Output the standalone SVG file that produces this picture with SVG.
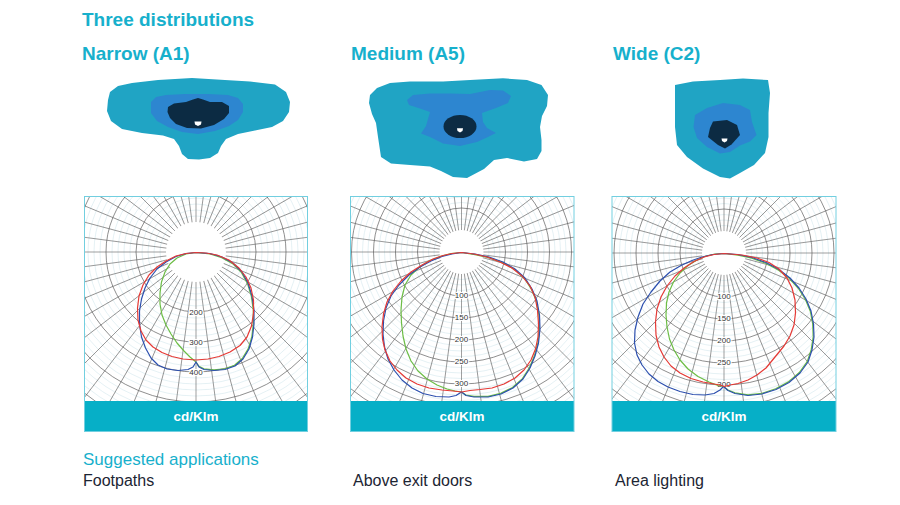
<svg xmlns="http://www.w3.org/2000/svg" xmlns:xlink="http://www.w3.org/1999/xlink" width="900" height="505" viewBox="0 0 900 505">
<style>
text{font-family:"Liberation Sans",Arial,sans-serif}
.h{font-weight:bold;font-size:19px;fill:#17b0cc}
.sub{font-size:17px;fill:#17b0cc}
.app{font-size:16px;fill:#1c2533}
.unit{font-weight:bold;font-size:13.5px;fill:#fff;text-anchor:middle}
.lbl{font-size:8px;fill:#333;text-anchor:middle;stroke:#fff;stroke-width:2.2;paint-order:stroke;stroke-linejoin:round}
.lr{fill:none;stroke:#cfe6eb;stroke-width:0.55}
.dr{fill:none;stroke:#5f5f5f;stroke-width:0.7}
.sp line{stroke:#5f5f5f;stroke-width:0.6}
.cv{fill:none;stroke-width:1.2;stroke-linejoin:round}
.red{stroke:#e53935}
.blu{stroke:#2c4fae}
.grn{stroke:#6cbd45}
.bar{fill:#06afc7}
.frame{fill:none;stroke:#72cfe0;stroke-width:1}
.o{fill:#20a4c4}
.m{fill:#2d86d0}
.d{fill:#0c2b43}
.w{fill:#fff}
</style>
<defs>
<g id="spokes" class="sp">
<line x1="-200" y1="0" x2="200" y2="0"/>
<line x1="-200" y1="0" x2="200" y2="0" transform="rotate(7.5)"/>
<line x1="-200" y1="0" x2="200" y2="0" transform="rotate(15)"/>
<line x1="-200" y1="0" x2="200" y2="0" transform="rotate(22.5)"/>
<line x1="-200" y1="0" x2="200" y2="0" transform="rotate(30)"/>
<line x1="-200" y1="0" x2="200" y2="0" transform="rotate(37.5)"/>
<line x1="-200" y1="0" x2="200" y2="0" transform="rotate(45)"/>
<line x1="-200" y1="0" x2="200" y2="0" transform="rotate(52.5)"/>
<line x1="-200" y1="0" x2="200" y2="0" transform="rotate(60)"/>
<line x1="-200" y1="0" x2="200" y2="0" transform="rotate(67.5)"/>
<line x1="-200" y1="0" x2="200" y2="0" transform="rotate(75)"/>
<line x1="-200" y1="0" x2="200" y2="0" transform="rotate(82.5)"/>
<line x1="-200" y1="0" x2="200" y2="0" transform="rotate(90)"/>
<line x1="-200" y1="0" x2="200" y2="0" transform="rotate(97.5)"/>
<line x1="-200" y1="0" x2="200" y2="0" transform="rotate(105)"/>
<line x1="-200" y1="0" x2="200" y2="0" transform="rotate(112.5)"/>
<line x1="-200" y1="0" x2="200" y2="0" transform="rotate(120)"/>
<line x1="-200" y1="0" x2="200" y2="0" transform="rotate(127.5)"/>
<line x1="-200" y1="0" x2="200" y2="0" transform="rotate(135)"/>
<line x1="-200" y1="0" x2="200" y2="0" transform="rotate(142.5)"/>
<line x1="-200" y1="0" x2="200" y2="0" transform="rotate(150)"/>
<line x1="-200" y1="0" x2="200" y2="0" transform="rotate(157.5)"/>
<line x1="-200" y1="0" x2="200" y2="0" transform="rotate(165)"/>
<line x1="-200" y1="0" x2="200" y2="0" transform="rotate(172.5)"/>
</g>
<g id="gridA">
<g class="lr">
<circle r="36"/><circle r="42"/><circle r="48"/><circle r="54"/>
<circle r="66"/><circle r="72"/><circle r="78"/><circle r="84"/>
<circle r="96"/><circle r="102"/><circle r="108"/><circle r="114"/>
<circle r="126"/><circle r="132"/><circle r="138"/><circle r="144"/>
<circle r="156"/><circle r="162"/><circle r="168"/><circle r="174"/>
<circle r="186"/><circle r="192"/>
</g>
<g class="dr"><circle r="60"/><circle r="90"/><circle r="120"/><circle r="150"/><circle r="180"/></g>
<use xlink:href="#spokes" href="#spokes"/>
<circle r="30" fill="#fff"/>
</g>
<g id="gridB">
<g class="lr">
<circle r="27.5"/><circle r="33"/><circle r="38.5"/>
<circle r="49.5"/><circle r="55"/><circle r="60.5"/>
<circle r="71.5"/><circle r="77"/><circle r="82.5"/>
<circle r="93.5"/><circle r="99"/><circle r="104.5"/>
<circle r="115.5"/><circle r="121"/><circle r="126.5"/>
<circle r="137.5"/><circle r="143"/><circle r="148.5"/>
<circle r="159.5"/><circle r="165"/><circle r="170.5"/>
<circle r="181.5"/><circle r="187"/><circle r="192.5"/>
</g>
<g class="dr"><circle r="44"/><circle r="66"/><circle r="88"/><circle r="110"/><circle r="132"/><circle r="154"/><circle r="176"/><circle r="198"/></g>
<use xlink:href="#spokes" href="#spokes"/>
<circle r="22" fill="#fff"/>
</g>
<clipPath id="cA1"><rect x="84.5" y="196.5" width="223" height="205"/></clipPath>
<clipPath id="cA5"><rect x="350.5" y="196.5" width="223.5" height="205"/></clipPath>
<clipPath id="cC2"><rect x="612" y="196.5" width="224" height="205"/></clipPath>
</defs>
<rect width="900" height="505" fill="#fff"/>

<g id="headings">
<text class="h" x="82" y="26">Three distributions</text>
<text class="h" x="82" y="60">Narrow (A1)</text>
<text class="h" x="351" y="60">Medium (A5)</text>
<text class="h" x="613" y="60">Wide (C2)</text>
</g>

<g id="isolux-a1">
<path class="o" d="M108,100 L110,92 118,86 132,83 158,80 192,78 225,80 250,81.5 275,84.5 286,92 290,102 289,112 283,121 272,127 255,130.5 238,134 226,139 221,146 218,153 210,158 199,159.5 188,159 182,154 179,146 174,139 163,135.5 142,133 122,129 111,121 107,111 Z"/>
<path class="m" d="M151,102 L156,97 166,95 185,94 208,94 228,95 238,98 243,104 243,112 238,120 229,126 215,131 198,134 182,132 168,127 157,121 151,113 Z"/>
<path class="d" d="M168,107 L174,103.5 186,102 193,99.5 198,98 203,99.5 210,102 222,102 229,106 229,113 224,119 214,125 201,128.5 187,128 176,124 170,118 167.5,112 Z"/>
<path class="w" d="M194.5,121.5 L201.5,121.5 201,124.5 198,126 195,124.5 Z"/>
</g>

<g id="isolux-a5">
<path class="o" d="M369,103 L370,95 377,88 390,83 410,81.5 443,81.5 470,80 503,78.3 527,80 541.5,85 548,95 547,106 542,116 540,127 541.5,140 541.5,151 537,159 524,161.5 507,158 494,160 484,169 467,178 453,177 441,171 430,166.5 410,165 391,163.5 381,157 378,137 376,123 372,114 Z"/>
<path class="m" d="M407,100 L413,95 430,93.5 450,93.5 470,94 490,90 503,90.5 511,96 508,103 496,108 482,113 483,122 487,128 496,133 488,137 477,142 460,146 443,143.5 430,137 421,133.5 426,126 430,112 420,108.5 409,105 Z"/>
<ellipse class="d" cx="460" cy="126.5" rx="16.5" ry="11.5"/>
<path class="w" d="M457,128.3 L463,128.3 462.5,131 460,132.5 457.5,131 Z"/>
</g>

<g id="isolux-c2">
<path class="o" d="M675,85 L693,81.5 720,80 743,78.5 768,80 770,93 768.5,113 768.5,137 765,153 754,165 740,173 730,178.5 720,177 703,168.5 687,157 677,145 675,127 675,103 Z"/>
<path class="m" d="M695,115 L707,108 723,103 740,105 750,110 752,122 756.5,135 750,141.5 740,145.5 730,152 720,153.5 707,147 697,138 693.5,127 Z"/>
<path class="d" d="M713,121.5 L727,120 737,125 740,135 731.5,144.5 725,148.5 718,145 708,137 710,128 Z"/>
<path class="w" d="M721.5,138.5 L727.5,138.5 727,141 724.5,142.5 722,141 Z"/>
</g>

<g id="polar-a1">
<rect x="84.5" y="196.5" width="223" height="235" fill="#fff"/>
<g clip-path="url(#cA1)"><use xlink:href="#gridA" href="#gridA" transform="translate(196,252)"/></g>
<text class="lbl" x="196" y="315">200</text>
<text class="lbl" x="196" y="345">300</text>
<text class="lbl" x="196" y="375">400</text>
<path class="cv grn" d="M196,252.5 L186,254 177,258 170,264 165,272 161.5,282 160,293 160,304 162,315 166,325 171,334 177,343 184,351 190,357 196,362 199,366.3 204,368.8 214,369.8 225,368.8 234.5,365.3 242.3,358.5 248.3,348.6 251.8,336.8 253.3,324 253.3,310 251.3,296.2 247.4,283.4 241.5,272.6 232.6,263.7 221.8,257.7 210,254 Z"/>
<path class="cv blu" d="M196,252.5 L186,253.5 176,256.5 166,262 157,269 150,278 145,288 141.5,299 139.5,311 139.5,324 141.5,337 145.5,348 151,358 158,365 167,369 178,370.5 188,369.5 193,367 196,362 199,367 204,369.5 214,370.5 225,369.5 235,366 243,359 249,349 252.5,337 254,324 254,310 252,296 248,283 242,272 233,263 222,257 210,253.5 Z"/>
<path class="cv red" d="M196,252.5 L186,253.5 176,256 166,261 157,267 149,275 143,285 139,296 137.5,308 138,320 141,331 146,340 153,347 162,352.5 172,356.5 183,359 196,360 208,359 219,356.5 230,352 240,345.5 247,337 251.5,326 253.5,313 253.5,300 251,288 246,277 239,268 229,260 217,255 206,253 Z"/>
<rect class="bar" x="84.5" y="401" width="223" height="30.5"/>
<text class="unit" x="196" y="421">cd/Klm</text>
<rect class="frame" x="84.5" y="196.5" width="223" height="235"/>
</g>

<g id="polar-a5">
<rect x="350.5" y="196.5" width="223.5" height="235" fill="#fff"/>
<g clip-path="url(#cA5)"><use xlink:href="#gridB" href="#gridB" transform="translate(461.5,252)"/></g>
<text class="lbl" x="461.5" y="298">100</text>
<text class="lbl" x="461.5" y="320">150</text>
<text class="lbl" x="461.5" y="342">200</text>
<text class="lbl" x="461.5" y="364">250</text>
<text class="lbl" x="461.5" y="386">300</text>
<path class="cv grn" d="M461.5,252.5 L451,253.5 440,256.5 429,261 419,267.5 411,275 405,285 402,297 401,310 401.5,323 403,336 406,349 411,361 418,371 427,379 437,385 447,389 455,391 461.5,392 466,395 474,396.4 488,396.4 500.6,393.4 512.5,387.5 522.4,378.6 529.4,367.7 534.4,355.8 537.9,342.9 539.4,329 538.9,315.1 536.4,301.2 531.5,289.3 524.5,278.5 514.6,269.6 502.7,262.6 488.8,257.6 475,254.6 Z"/>
<path class="cv blu" d="M461.5,252.5 L452,254 442,256.5 431,261 420,267 409,275 399,285 391,296 386,308 383.5,321 383,334 384.5,347 388,359 394,370 402,380 412,388 423,393.5 436,396.5 449,397 456,395.5 461.5,392 466,395.5 474,397 488,397 501,394 513,388 523,379 530,368 535,356 538.5,343 540,329 539.5,315 537,301 532,289 525,278 515,269 503,262 489,257 475,254 Z"/>
<path class="cv red" d="M461.5,252.5 L452,253.5 443,255.5 433,259 422,265 411,272 401,281 393,291 387,302 383.5,314 382,327 382.5,339 385,350 390,361 397,370 406,378 417,384 429,388 442,390 453,391 461.5,392 470,390.5 480,389.5 492,388 504,384 515,378 524,370 531,360 535.5,349 538,337 538.5,324 537.5,310 535,297 530,286 522,276 512,268 500,262 487,257 474,254 Z"/>
<rect class="bar" x="350.5" y="401" width="223.5" height="30.5"/>
<text class="unit" x="462" y="421">cd/Klm</text>
<rect class="frame" x="350.5" y="196.5" width="223.5" height="235"/>
</g>

<g id="polar-c2">
<rect x="612" y="196.5" width="224" height="235" fill="#fff"/>
<g clip-path="url(#cC2)"><use xlink:href="#gridB" href="#gridB" transform="translate(724,253)"/></g>
<text class="lbl" x="724" y="299">100</text>
<text class="lbl" x="724" y="321">150</text>
<text class="lbl" x="724" y="343">200</text>
<text class="lbl" x="724" y="365">250</text>
<text class="lbl" x="724" y="387">300</text>
<path class="cv grn" d="M724,253.5 L715,254 706,256 697,260 688,265.5 680,273 673.5,282 669,292 666.5,303 666,315 667,327 669.5,339 674,350 680,360 688,369 698,376.5 709,382 718,385.5 723.5,386.5 728,390 735,392.8 748,394.8 762,393.3 775.6,388.8 788.4,381.9 799.3,372.5 807.2,361.6 811.2,349.7 813.2,336.9 812.7,324 810.3,311.2 805.3,299.3 798.4,288.5 789.5,278.6 778.6,270.2 765.7,263.2 751.8,258.2 738,255.2 Z"/>
<path class="cv blu" d="M724,253.5 L713,254.5 702,257 692,260.5 681,265.5 670,272 660,281 651,292 643,304 638,317 635,330 634.5,343 637,355 642,365 649,374 658,381.5 668,387 680,391.5 693,394.5 705,395 714,393.5 720,390 723.5,386.5 728,390.5 735,393.5 748,395.5 762,394 776,389.5 789,382.5 800,373 808,362 812,350 814,337 813.5,324 811,311 806,299 799,288 790,278 779,269.5 766,262.5 752,257.5 738,254.5 Z"/>
<path class="cv red" d="M724,253.5 L714,254.5 704,257 694,261.5 684,268 675,276 667,286 661,297 657,309 655.5,322 656,335 659,347 664,357 671,366 680,373 691,378.5 703,382 714,384 720,385 724.5,386.5 730,385 738,383.5 748,380 757,375 766,368 775,357 784,346 790,336 794,325 795.5,313 795,300 792,288 787,278 779,269 769,262.5 757,258 742,255 Z"/>
<rect class="bar" x="612" y="401" width="224" height="30.5"/>
<text class="unit" x="724" y="421">cd/Klm</text>
<rect class="frame" x="612" y="196.5" width="224" height="235"/>
</g>

<g id="applications">
<text class="sub" x="83" y="465">Suggested applications</text>
<text class="app" x="83" y="486">Footpaths</text>
<text class="app" x="353" y="486">Above exit doors</text>
<text class="app" x="615" y="486">Area lighting</text>
</g>
</svg>
